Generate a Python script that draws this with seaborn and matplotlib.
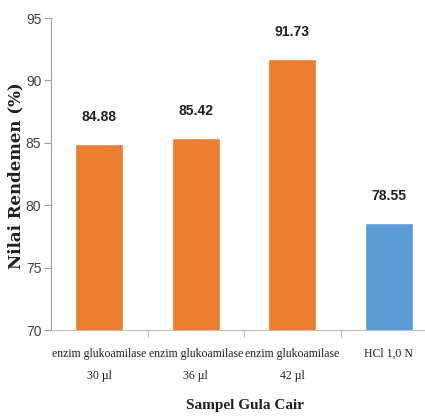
import matplotlib
matplotlib.use("Agg")
import matplotlib.pyplot as plt
import seaborn as sns

categories = ["enzim glukoamilase\n30 µl", "enzim glukoamilase\n36 µl",
              "enzim glukoamilase\n42 µl", "HCl 1,0 N"]
values = [84.88, 85.42, 91.73, 78.55]
value_labels = ["84.88", "85.42", "91.73", "78.55"]
colors = ["#ED7D31", "#ED7D31", "#ED7D31", "#5B9BD5"]
yticks = [70, 75, 80, 85, 90, 95]

sns.set_style("white")
sans = ["Liberation Sans Narrow", "Liberation Sans", "DejaVu Sans"]
serif = ["Liberation Serif", "DejaVu Serif"]

fig = plt.figure(figsize=(4.25, 4.17), dpi=100)
ax = fig.add_axes([51/425, 87/417, 386/425, 312/417])

sns.barplot(x=categories, y=values, hue=categories, palette=colors,
            width=0.5, legend=False, ax=ax, saturation=1)

ax.set_xlim(-0.5, 3.5)
ax.set_ylim(70, 95)
ax.set_yticks(yticks)
ax.set_yticklabels([str(t) for t in yticks], family=sans, fontsize=10, color="#404040")
ax.tick_params(axis="y", length=5, width=0.8, color="#A0A0A0", pad=2, left=True)

ax.set_xticks(range(len(categories)))
ax.set_xticklabels(categories, family=serif, fontsize=8.5, color="#202020",
                   linespacing=2.15)
ax.tick_params(axis="x", which="major", length=0, pad=13)
ax.set_xticks([0.5, 1.5, 2.5], minor=True)
ax.tick_params(axis="x", which="minor", length=5, width=0.8, color="#C0C0C0", bottom=True)

for s in ["top", "right"]:
    ax.spines[s].set_visible(False)
ax.spines["left"].set_color("#A0A0A0")
ax.spines["bottom"].set_color("#C0C0C0")
ax.spines["left"].set_linewidth(0.8)
ax.spines["bottom"].set_linewidth(0.8)

for i, (v, lab) in enumerate(zip(values, value_labels)):
    ax.text(i, v + 1.6, lab, ha="center", va="bottom", family=sans,
            fontsize=10, fontweight="bold", color="#202020")

ax.set_ylabel("")
ax.set_xlabel("")
fig.text(16/425, 1 - 176/417, "Nilai Rendemen (%)", rotation=90, ha="center", va="center",
         family=["DejaVu Serif"], fontsize=12, fontweight="bold", color="#202020")
fig.text(245/425, 1 - 405/417, "Sampel Gula Cair", ha="center", va="center",
         family=serif, fontsize=11, fontweight="bold", color="#202020")

fig.savefig("out.png", dpi=100)
